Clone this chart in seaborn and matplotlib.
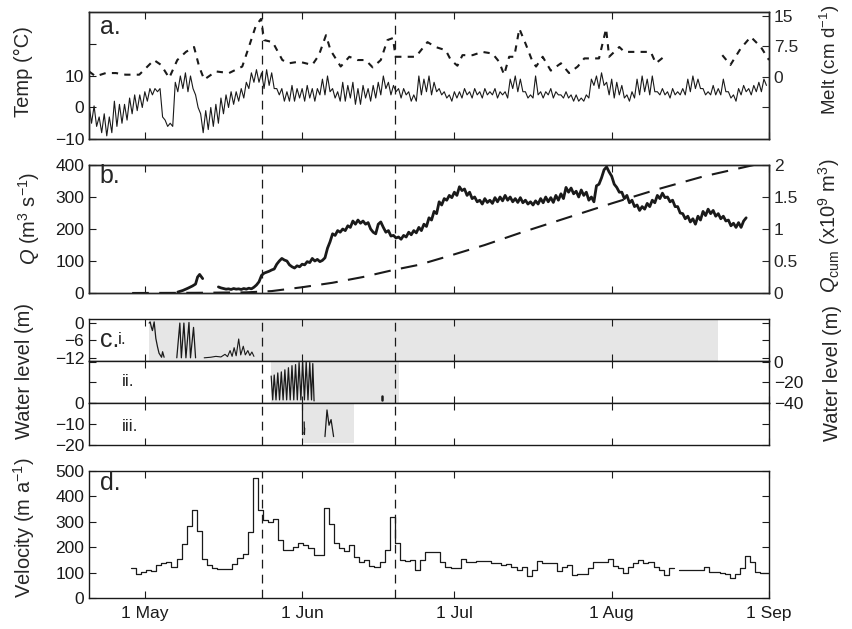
import numpy as np
import pandas as pd
import matplotlib.pyplot as plt
import seaborn as sns

# x axis is days since 1 May
month_days = [0, 31, 61, 92, 123]
month_labels = ['1 May', '1 Jun', '1 Jul', '1 Aug', '1 Sep']
event_days = [23.05, 49.25]

# a. air temperature, half-daily from 20 Apr
temp_start = -11
temp = [1, -5, 0.5, -6,
        -3, -8, -2, -9, -3, -8,
        2, -6, 1, -5, 1, -4,
        3, -2, 4, -1, 4, 0,
        5, 2, 6, 4, 6, 5,
        6, -3,
        -4, -6, -5, -6,
        8, 5, 10, 6, 11, 5, 10, 6,
        4, 0,
        -2, -8, -1, -7, 0, -6, 1, -5,
        3, -2, 4, 0, 5, 1, 5, 2, 6, 3,
        8, 6,
        11, 8, 12, 8,
        11, 6, 12, 7, 11, 6,
        6, 4,
        6, 2, 5, 2, 7, 2, 6, 3, 6, 2, 7, 3, 6, 2, 6, 4,
        9, 4, 10, 5,
        6, 3, 5, 2,
        8, 2, 7, 3, 8, 1, 6, 1, 7, 3,
        6, 2, 7, 3, 8, 4,
        10, 6,
        8, 4, 7, 5, 6, 3, 6, 4, 5, 2,
        4, 2,
        10, 4, 9, 5, 10, 4, 8, 5,
        6, 4, 5, 3, 4, 2, 5, 3,
        5, 3, 6, 4, 5, 3, 6, 4, 5, 3, 6, 4, 5, 4, 6, 3, 5, 4, 5, 3,
        9, 6, 10, 5, 9, 5,
        5, 3, 4, 3,
        10, 4,
        5, 3, 5, 4,
        6, 3, 5, 4, 4, 3, 5, 3, 4, 2, 4, 2, 3, 2, 4, 3,
        9, 7, 10, 6, 11, 7,
        8, 4, 9, 3, 8, 4, 7, 3,
        4, 2, 5, 3,
        9, 4, 10, 5, 9, 4, 10, 5,
        5, 4, 6, 4, 5, 3, 6, 4, 5, 4, 6, 4,
        9, 5, 10, 6, 9, 6,
        6, 4, 5, 4, 7, 4, 6, 4,
        9, 5,
        5, 3, 4, 2,
        6, 4, 7, 5, 6, 4, 7, 5, 8, 5, 9, 7]

# a. melt (cm/d), two pieces with a gap in August
melt_days = [-11.0, -9.7, -7.7, -5.7, -3.8, -1.1, 0.2, 1.8, 3.2, 4.8,
             6.4, 8.1, 9.7, 10.7, 11.7, 14.0, 16.6, 19.2, 20.5, 21.9,
             22.9, 23.5, 25.2, 27.1, 28.4, 30.4, 33.0, 34.3, 35.7, 36.6,
             38.6, 40.3, 41.9, 43.5, 44.9, 46.5, 47.8, 48.9, 49.4, 53.4,
             55.7, 57.3, 59.3, 60.3, 61.6, 62.6, 64.6, 66.5, 68.5, 69.8,
             70.8, 71.8, 72.8, 73.8, 75.1, 76.4, 77.1, 78.4, 80.0, 82.0,
             83.6, 85.3, 86.6, 89.5, 90.9, 91.5, 93.5, 94.5, 99.7, 100.7,
             102.3]
melt = [1.3, 0.1, 0.9, 0.9, 0.5, 0.5, 2.1, 4.1, 2.9, -0.3,
        4.1, 6.1, 7.3, 2.5, -0.7, 1.3, 0.9, 2.5, 7.3, 12.6,
        14.2, 9.0, 8.5, 4.1, 3.3, 3.7, 2.9, 5.3, 10.2, 6.5,
        2.5, 4.9, 4.1, 4.1, 2.3, 4.1, 9.0, 9.5, 4.9, 4.9,
        8.5, 7.3, 6.5, 4.1, 2.7, 5.3, 5.3, 6.1, 5.7, 3.7,
        0.5, 4.9, 4.9, 11.8, 7.9, 3.7, 2.5, 4.9, 1.5, 3.3,
        0.9, 2.5, 4.5, 4.5, 11.8, 4.9, 7.3, 6.1, 6.1, 3.3,
        4.9]
melt_days2 = [113.8, 115.4, 117.4, 119.4, 121.4, 123.0]
melt2 = [5.3, 2.9, 6.9, 9.8, 7.3, 4.1]

# b. discharge (m3/s) and cumulative discharge (x10^9 m3)
q_early_days = [6.5, 7.5, 8.5, 9.4, 10.0, 10.4, 10.8, 11.4]
q_early = [3, 8, 15, 22, 28, 50, 58, 45]
q_start = 14.5
q = [19, 16, 14, 12, 13, 11, 14, 12, 13, 11, 14, 12, 15, 13, 18,
     25, 35, 55, 62, 65, 68, 72, 75,
     90, 100, 108, 103, 100, 88, 82, 78,
     85, 82, 90, 88, 98, 95, 108, 100,
     105, 98, 102, 110, 140, 160, 185, 180,
     195, 190, 200, 195, 210, 205, 225, 215,
     228, 218, 225, 215, 220, 200, 190, 185,
     215, 222, 205, 190, 195, 178, 180, 172,
     175, 168, 180, 175, 190, 182, 195, 188,
     205, 195, 215, 208, 235, 228, 255, 248,
     285, 275, 295, 290, 305, 298, 315, 305,
     332, 320, 325, 305, 315, 295, 300, 285,
     290, 278, 295, 283, 290, 280, 298, 285,
     300, 288, 305, 290, 300, 285, 295, 283,
     298, 282, 290, 278, 285, 275, 288, 278,
     295, 282, 300, 285, 298, 283, 305, 290,
     310, 295, 330, 315, 328, 310, 318, 300,
     322, 305, 315, 290, 300, 285, 335, 340,
     360, 385, 394, 378, 365, 340, 330, 315,
     315, 295, 305, 282, 290, 270, 275, 258,
     270, 262, 280, 270, 290, 282, 305, 295,
     312, 298, 300, 285, 290, 270, 270, 250,
     248, 232, 240, 222, 232, 215, 240, 228,
     255, 242, 262, 248, 258, 240, 248, 232,
     240, 225, 228, 210, 218, 205, 220, 205,
     225, 235]
qcum_days = [-2.5, 10, 20, 25, 31, 37, 43, 49, 54, 60, 67, 74, 83, 92, 101, 110, 120]
qcum = [0, 0.003, 0.01, 0.03, 0.09, 0.16, 0.25, 0.36, 0.44, 0.58, 0.75, 0.94,
        1.17, 1.40, 1.62, 1.82, 2.0]

# c. borehole water levels (m) and their recording periods
shade_i = (0.85, 112.9)
shade_ii = (24.8, 50.1)
shade_iii = (31.07, 41.2)
wl_i_days = [0.85, 1.05, 1.3, 1.5, 1.84, 2.17, 2.5, 2.8, 3.3, 3.5, 3.8]
wl_i = [0, 0.4, -1.5, -2.6, 0.4, -5.3, -8.2, -10.4, -11.8, -9.9, -11.8]
wl_i_days2 = [6.3, 6.9, 7.2, 7.7, 8.1, 8.7, 9.0, 9.6, 10.0]
wl_i2 = [-12, 0, -12, 0, -12, 0.2, -12, -1.5, -12]
wl_i_days3 = [11.7, 13, 14, 15, 15.8, 16.3, 16.8, 17.2, 17.6, 18.0, 18.5, 18.9,
              19.4, 19.8, 20.3, 20.7, 21.1, 21.5]
wl_i3 = [-12, -11.8, -11.5, -11.7, -10.8, -11.6, -9.5, -11.5, -8.5, -11.3, -5.5, -11,
         -8, -11, -9.5, -11.2, -10, -11.5]
wl_ii_days = [24.9, 25.2, 25.5, 25.85, 26.2, 26.55, 26.9, 27.25, 27.6, 27.95, 28.3, 28.65,
              29.0, 29.35, 29.7, 30.05, 30.4, 30.75, 31.1, 31.45, 31.8, 32.15, 32.5, 32.85,
              33.1, 33.35]
wl_ii = [-14, -37, -13, -37, -11, -37, -10, -37, -8, -37, -6, -37,
         -4, -37, -3, -37, -1, -37, 0, -37, 0, -37, -1, -37, -2, -38]
wl_ii_days2 = [46.8, 46.8]
wl_ii2 = [-33, -37]
wl_iii_days = [31.07, 31.07, 31.15]
wl_iii = [0, -15, -14]
wl_iii_days2 = [31.4, 31.45, 31.5]
wl_iii2 = [-9, -15, -12]
wl_iii_days3 = [35.5, 35.9, 36.3, 36.7, 37.2]
wl_iii3 = [-16, -3.3, -10.6, -7.9, -16]

# d. daily surface velocity (m/a) from 28 Apr
vel_start = -2.75
vel = [117, 95, 103, 110, 108, 130, 136, 143, 123, 152,
       212, 283, 348, 263, 152, 128, 118, 115, 115, 115,
       135, 156, 172, 258, 473, 346, 306, 298, 312, 228,
       189, 190, 200, 217, 210, 198, 169, 169, 355, 292,
       218, 195, 185, 207, 160, 140, 150, 127, 122, 140,
       188, 320, 215, 150, 145, 148, 112, 150, 182, 182,
       182, 141, 122, 120, 117, 152, 141, 143, 145, 147,
       147, 138, 138, 130, 133, 122, 110, 122, 88, 110,
       145, 136, 136, 136, 108, 122, 128, 90, 94, 94,
       117, 141, 141, 143, 152, 125, 120, 99, 122, 138,
       149, 136, 143, 122, 112, 90, 117, np.nan, 110, 110,
       110, 110, 110, 122, 104, 104, 99, 94, 80, 94,
       117, 165, 143, 101, 97, 97]

sns.set_theme(style='ticks')
plt.rcParams['font.family'] = ['Liberation Sans', 'DejaVu Sans']
plt.rcParams['mathtext.fontset'] = 'custom'
plt.rcParams['mathtext.rm'] = 'Liberation Sans'
plt.rcParams['mathtext.it'] = 'Liberation Sans:italic'
plt.rcParams['axes.linewidth'] = 1.0

TICK = 12.5
grey = '#e6e6e6'
fig = plt.figure(figsize=(8.52, 6.29), dpi=100)


def add_axes(top, bottom):
    return fig.add_axes([89 / 852, 1 - bottom / 629, 680 / 852, (bottom - top) / 629])


def frame(ax, xlabels=False, right=True):
    ax.set_xlim(-11, 123)
    ax.set_xticks(month_days)
    ax.set_xticklabels(month_labels if xlabels else [''] * len(month_days))
    ax.tick_params(axis='x', direction='in', top=True, bottom=True, length=5, width=0.8,
                   labelsize=TICK, pad=6, colors='k')
    ax.tick_params(axis='y', direction='in', left=True, right=right, length=5, width=0.8,
                   labelsize=TICK, colors='k')
    for s in ax.spines.values():
        s.set_visible(True)
        s.set_color('k')
        s.set_linewidth(1.0)
    for d in event_days:
        ax.axvline(d, color='k', lw=0.9, ls=(0, (7, 5)), zorder=1)


def line(ax, x, y, **kw):
    sns.lineplot(x=np.asarray(x, float), y=np.asarray(y, float), ax=ax, color='k',
                 estimator=None, sort=False, **kw)


def ylab(x, y, s, size=14.5):
    fig.text(x / 852, 1 - y / 629, s, rotation=90, ha='center', va='center', fontsize=size)


# ---- a. temperature and melt
ax_a = add_axes(12, 139)
frame(ax_a, right=False)
temp_x = temp_start + 0.5 * np.arange(len(temp))
line(ax_a, temp_x, temp, lw=0.8)
ax_a.set_ylim(-10, 30.3)
ax_a.set_yticks([-10, 0, 10, 20], labels=['\u221210', '0', '10', ''])
ax_a2 = ax_a.twinx()
line(ax_a2, melt_days, melt, lw=1.5, ls=(0, (3, 3)))
line(ax_a2, melt_days2, melt2, lw=1.5, ls=(0, (3, 3)))
ax_a2.set_ylim(-15.3, 15.9)
ax_a2.set_yticks([-7.5, 0, 7.5, 15], labels=['', '0', '7.5', '15'])
ax_a2.tick_params(axis='y', direction='in', length=5, width=0.8, labelsize=TICK)
ax_a.text(0.016, 0.88, 'a.', transform=ax_a.transAxes, fontsize=18, va='center')
ax_a.set_ylabel('')
ax_a2.set_ylabel('')

# ---- b. discharge
ax_b = add_axes(165, 293)
frame(ax_b, right=False)
line(ax_b, q_early_days, q_early, lw=2)
q_x = q_start + 0.5 * np.arange(len(q))
line(ax_b, q_x, q, lw=2)
ax_b.set_ylim(0, 400)
ax_b.set_yticks([0, 100, 200, 300, 400])
ax_b2 = ax_b.twinx()
line(ax_b2, qcum_days, qcum, lw=1.5, ls=(0, (8, 5)))
ax_b2.set_ylim(0, 2)
ax_b2.set_yticks([0, 0.5, 1, 1.5, 2], labels=['0', '0.5', '1', '1.5', '2'])
ax_b2.tick_params(axis='y', direction='in', length=5, width=0.8, labelsize=TICK)
ax_b.text(0.016, 0.914, 'b.', transform=ax_b.transAxes, fontsize=18, va='center')
ax_b.set_ylabel('')
ax_b2.set_ylabel('')

# ---- c. water levels
ax_c1 = add_axes(319, 361)
ax_c1.axvspan(*shade_i, color=grey, lw=0, zorder=0)
frame(ax_c1)
line(ax_c1, wl_i_days, wl_i, lw=0.9)
line(ax_c1, wl_i_days2, wl_i2, lw=0.9)
line(ax_c1, wl_i_days3, wl_i3, lw=0.8)
ax_c1.set_ylim(-13.1, 1.4)
ax_c1.set_yticks([0, -6, -12], labels=['0', '\u22126', '\u221212'])
ax_c1.text(0.016, 0.5, 'c.', transform=ax_c1.transAxes, fontsize=18, va='center')
ax_c1.text(0.042, 0.5, 'i.', transform=ax_c1.transAxes, fontsize=TICK, va='center')

ax_c2 = add_axes(361, 403)
ax_c2.axvspan(*shade_ii, color=grey, lw=0, zorder=0)
frame(ax_c2)
line(ax_c2, wl_ii_days, wl_ii, lw=0.9)
line(ax_c2, wl_ii_days2, wl_ii2, lw=1.8)
ax_c2.set_ylim(-40, 0.5)
ax_c2.set_yticks([0, -20, -40], labels=['0', '\u221220', '\u221240'])
ax_c2.tick_params(axis='y', labelleft=False, labelright=True)
ax_c2.text(0.048, 0.5, 'ii.', transform=ax_c2.transAxes, fontsize=TICK, va='center')

ax_c3 = add_axes(403, 445)
ax_c3.axvspan(*shade_iii, ymin=0.04, ymax=0.97, color=grey, lw=0, zorder=0)
frame(ax_c3)
line(ax_c3, wl_iii_days, wl_iii, lw=0.9)
line(ax_c3, wl_iii_days2, wl_iii2, lw=0.9)
line(ax_c3, wl_iii_days3, wl_iii3, lw=0.9)
ax_c3.set_ylim(-20, 0)
ax_c3.set_yticks([0, -10, -20], labels=['0', '\u221210', '\u221220'])
ax_c3.text(0.048, 0.43, 'iii.', transform=ax_c3.transAxes, fontsize=TICK, va='center')
for ax in (ax_c1, ax_c2, ax_c3):
    ax.set_ylabel('')

# ---- d. velocity (steps)
ax_d = add_axes(471, 598)
frame(ax_d, xlabels=True)
vel_arr = np.array(vel, float)
gap = int(np.where(np.isnan(vel_arr))[0][0])
for lo, hi in [(0, gap), (gap + 1, len(vel_arr))]:
    seg = vel_arr[lo:hi]
    xs = vel_start + np.arange(lo, hi + 1)
    ys = np.append(seg, seg[-1])
    line(ax_d, xs, ys, lw=0.9, drawstyle='steps-post')
ax_d.set_ylim(0, 500)
ax_d.set_yticks([0, 100, 200, 300, 400, 500])
ax_d.text(0.016, 0.905, 'd.', transform=ax_d.transAxes, fontsize=18, va='center')
ax_d.set_ylabel('')

# axis labels
ylab(23, 72, 'Temp (\u00b0C)')
ylab(29, 218, r'$Q$ (m$^3$ s$^{-1}$)')
ylab(24, 371, 'Water level (m)')
ylab(24, 528, r'Velocity (m a$^{-1}$)')
ylab(830, 60, r'Melt (cm d$^{-1}$)', size=13.5)
ylab(829, 226, r'$Q_{\mathrm{cum}}$ (x10$^9$ m$^3$)')
ylab(832, 373, 'Water level (m)')

fig.savefig('out.png', dpi=100)
